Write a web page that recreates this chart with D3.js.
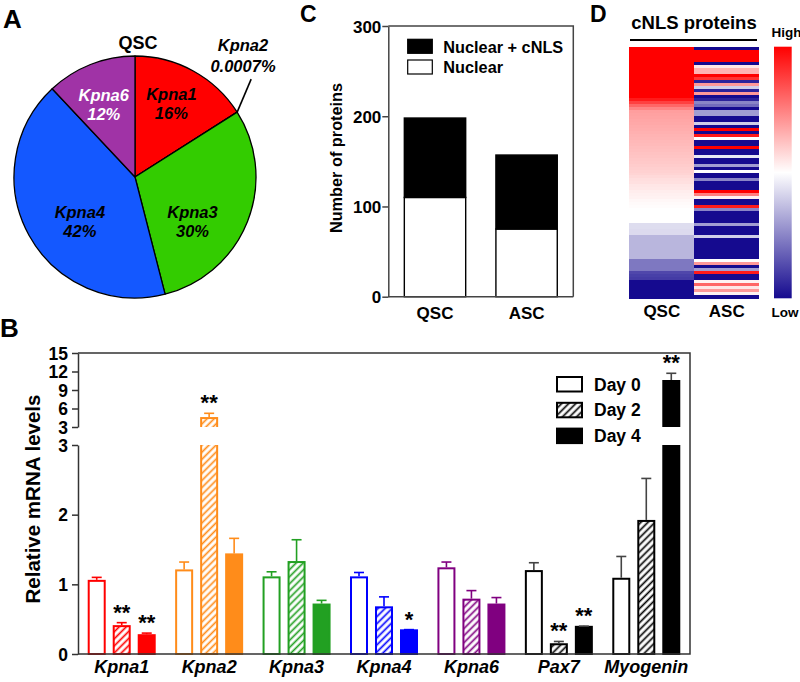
<!DOCTYPE html>
<html><head><meta charset="utf-8">
<script src="https://cdn.jsdelivr.net/npm/d3@7"></script>
<style>
body{margin:0;background:#fff}
svg{display:block}
text{font-family:"Liberation Sans",Arial,Helvetica,sans-serif;font-weight:bold;fill:#000}
</style>
</head><body>
<svg id="fig" width="800" height="682"></svg>
<script>
// ---------- Panel A data ----------
const pieGenes = ["Kpna1","Kpna2","Kpna3","Kpna4","Kpna6"];
const pieShares = [16, 0.0007, 30, 42, 12];
const pieLabels = ["16%","0.0007%","30%","42%","12%"];
const pieColors = ["#ff0000","#ff0000","#33cc00","#1458ff","#a033a6"];

// ---------- Panel C data ----------
const cCategories = ["QSC","ASC"];
const cNuclear = [110, 75];
const cNuclearCNLS = [88, 82];
const cTicks = [0,100,200,300];
const cLegend = ["Nuclear + cNLS","Nuclear"];

// ---------- Panel D data ----------
const heatColumns = ["QSC","ASC"];
const qscHeat = [1,1,1,1,1,1,1,1,1,1,1,1,1,1,1,1,1,
  0.9,0.75,0.6,0.48,
  0.38,0.37,0.36,0.35,0.34,0.33,0.32,0.31,0.3,0.29,0.28,0.27,0.26,0.25,0.24,0.23,0.22,0.21,0.2,0.19,0.18,0.17,
  0.15,0.13,0.12,0.1,0.09,0.07,0.06,0.05,
  0.03,0.02,0.01,0,0,0,0,0,
  -0.14,-0.14,-0.15,-0.15,
  -0.3,-0.3,-0.3,-0.3,-0.3,-0.3,-0.3,-0.3,
  -0.55,-0.55,-0.55,-0.55,
  -0.75,-0.78,-0.8,
  -1,-1,-1,-1,-1,-1];
const ascHeat = [-1,1,1,1,1,-1,0.1,0.3,0.3,1,
  0.8,-0.9,0.4,-0.2,-0.9,0.4,-1,-0.9,-0.5,-0.6,
  -1,-0.4,-0.4,-1,-1,-0.2,-1,1,-1,0.9,
  0,-1,-1,1,-1,-1,-0.1,-1,-1,-0.4,
  -1,0,-1,-1,-0.5,-1,-1,-1,1,0.5,
  0.05,-1,-1,0.9,-0.5,-1,-1,-1,-1,-0.4,
  -1,-1,-1,-0.2,-1,-1,-1,-1,-1,-1,
  -1,0,0.4,-1,-0.4,0.9,-1,-1,0.05,0.6,
  0.1,0.4,0.05,-1];

// ---------- Panel B data ----------
const bGenes = ["Kpna1","Kpna2","Kpna3","Kpna4","Kpna6","Pax7","Myogenin"];
const bDays = ["Day 0","Day 2","Day 4"];
const bDay0 = [1.05,1.20,1.10,1.10,1.23,1.19,1.08];
const bDay0Err = [0.05,0.12,0.08,0.07,0.09,0.12,0.32];
const bDay2 = [0.40,4.45,1.32,0.67,0.78,0.14,1.91];
const bDay2Err = [0.05,0.77,0.32,0.15,0.13,0.04,0.61];
const bDay4 = [0.27,1.43,0.71,0.34,0.71,0.39,10.46];
const bDay4Err = [0.03,0.23,0.06,0.01,0.10,0.01,1.25];
const bDay0Stars = ["","","","","","",""];
const bDay2Stars = ["**","**","","","","**",""];
const bDay4Stars = ["**","","","*","","**","**"];
const bGeneColors = ["#ff0000","#ff8c1a","#22a022","#0000ff","#800080","#000000","#000000"];
const bLowTicks = [0,1,2,3];
const bHighTicks = [3,6,9,12,15];

const svg = d3.select("#fig");
const defs = svg.append("defs");
const FONT = '"Liberation Sans",Arial,Helvetica,sans-serif';

// panel letters
[["A",3,28,26],["B",0,337,26],["C",300,21.5,23],["D",590,21.5,23]].forEach(([t,x,y,s])=>{
  svg.append("text").attr("x",x).attr("y",y).attr("font-size",s).text(t);
});

// =============== Panel A: pie ===============
(function(){
  const cx=135, cy=177, R=121;
  const g = svg.append("g").attr("transform",`translate(${cx},${cy})`);
  const pie = d3.pie().sort(null).value(d=>d.v);
  const data = pie(pieGenes.map((k,i)=>({k, v:pieShares[i], c:pieColors[i], lab:pieLabels[i]})));
  const arc = d3.arc().innerRadius(0).outerRadius(R);
  g.selectAll("path").data(data).enter().append("path")
    .attr("d",arc).attr("fill",d=>d.data.c)
    .attr("stroke","#000").attr("stroke-width",1.3).attr("stroke-linejoin","round");
  const labelLayout = {Kpna1:[26,83], Kpna3:[127,72], Kpna4:[232,70], Kpna6:[337,80]};
  data.forEach(d=>{
    const L = labelLayout[d.data.k];
    if(!L) return;
    const a = L[0]*Math.PI/180;
    const x = Math.sin(a)*L[1], y = -Math.cos(a)*L[1];
    const t = g.append("text").attr("text-anchor","middle").attr("font-size",16.5)
      .attr("font-style","italic")
      .style("fill", d.data.k==="Kpna6" ? "#fff" : "#000");
    t.append("tspan").attr("x",x).attr("y",y-2).text(d.data.k);
    t.append("tspan").attr("x",x).attr("y",y+17).text(d.data.lab);
  });
  const k2 = data[1];
  const a2 = k2.startAngle;
  const px = Math.sin(a2)*R, py = -Math.cos(a2)*R;
  g.append("line").attr("x1",px).attr("y1",py).attr("x2",px+14).attr("y2",py-33)
    .attr("stroke","#000").attr("stroke-width",1.6);
  const t2 = g.append("text").attr("text-anchor","middle").attr("font-size",16.5).attr("font-style","italic");
  t2.append("tspan").attr("x",108).attr("y",-126).text(k2.data.k);
  t2.append("tspan").attr("x",108).attr("y",-105).text(k2.data.lab);
  svg.append("text").attr("x",cx+3).attr("y",49).attr("text-anchor","middle").attr("font-size",18).text("QSC");
})();

// =============== Panel C: stacked bars ===============
(function(){
  const left=388.3, right=573.3, top=26, bottom=296.7;
  const x = d3.scaleBand().domain(cCategories).range([left,right]).paddingInner(0.33).paddingOuter(0.175);
  const y = d3.scaleLinear().domain([0,300]).range([bottom,top]);
  const rows = cCategories.map((c,i)=>({cat:c, nuclear:cNuclear[i], cnls:cNuclearCNLS[i]}));
  const stack = d3.stack().keys(["nuclear","cnls"])(rows);
  const fills = {nuclear:"#fff", cnls:"#000"};
  stack.forEach(layer=>{
    svg.append("g").selectAll("rect").data(layer).enter().append("rect")
      .attr("x",d=>x(d.data.cat)).attr("width",x.bandwidth())
      .attr("y",d=>y(d[1])).attr("height",d=>y(d[0])-y(d[1]))
      .attr("fill",fills[layer.key]).attr("stroke","#000").attr("stroke-width",1.4);
  });
  svg.append("path").attr("d",`M${left},${top}H${right}V${bottom}`).attr("fill","none")
    .attr("stroke","#444").attr("stroke-width",1.5);
  const ax = svg.append("g").attr("transform",`translate(${left},0)`)
    .call(d3.axisLeft(y).tickValues(cTicks).tickSize(6).tickPadding(1).tickSizeOuter(0).tickFormat(d3.format("d")));
  ax.selectAll("path,line").attr("stroke","#444").attr("stroke-width",1.5);
  ax.selectAll("text").attr("font-size",17).attr("font-family",FONT).attr("font-weight","bold").attr("fill","#000").attr("dy","0.36em");
  svg.append("line").attr("x1",left).attr("x2",right).attr("y1",bottom).attr("y2",bottom).attr("stroke","#444").attr("stroke-width",1.5);
  cCategories.forEach(c=>{
    svg.append("text").attr("x",x(c)+x.bandwidth()/2).attr("y",319).attr("text-anchor","middle").attr("font-size",17).text(c);
  });
  svg.append("text").attr("transform",`translate(342,158) rotate(-90)`).attr("text-anchor","middle")
    .attr("font-size",16.3).text("Number of proteins");
  const lg = [["#000",39.3,53.3],["#fff",60,73.3]];
  cLegend.forEach((t,i)=>{
    svg.append("rect").attr("x",407.7).attr("y",lg[i][1]).attr("width",24.6).attr("height",14)
      .attr("fill",lg[i][0]).attr("stroke","#000").attr("stroke-width",1.2);
    svg.append("text").attr("x",443.3).attr("y",lg[i][2]).attr("font-size",16.3).text(t);
  });
})();

// =============== Panel D: heatmap ===============
(function(){
  const top=46.7, bottom=298.3;
  const x = d3.scaleBand().domain(heatColumns).range([629.3,759.3]);
  const rowsIdx = d3.range(qscHeat.length);
  const y = d3.scaleBand().domain(rowsIdx).range([top,bottom]);
  const color = d3.scaleLinear().domain([-1,0,1]).range(["#150a8f","#ffffff","#ff0000"]);
  const cols = {QSC:qscHeat, ASC:ascHeat};
  heatColumns.forEach(c=>{
    svg.append("g").selectAll("rect").data(cols[c]).enter().append("rect")
      .attr("x",x(c)).attr("width",x.bandwidth())
      .attr("y",(d,i)=>y(i)).attr("height",y.bandwidth()+0.6)
      .attr("fill",d=>color(d)).attr("shape-rendering","crispEdges");
    svg.append("text").attr("x",x(c)+x.bandwidth()/2).attr("y",317).attr("text-anchor","middle").attr("font-size",17).text(c);
  });
  svg.append("text").attr("x",694).attr("y",28.5).attr("text-anchor","middle").attr("font-size",18.5).text("cNLS proteins");
  svg.append("line").attr("x1",630).attr("x2",757).attr("y1",40).attr("y2",40).attr("stroke","#000").attr("stroke-width",2);
  const grad = defs.append("linearGradient").attr("id","cbar").attr("x1",0).attr("x2",0).attr("y1",0).attr("y2",1);
  [[0,color(1)],[0.5,color(0)],[1,color(-1)]].forEach(([o,c])=>grad.append("stop").attr("offset",o).attr("stop-color",c));
  svg.append("rect").attr("x",774).attr("y",top).attr("width",17.7).attr("height",bottom-top).attr("fill","url(#cbar)");
  svg.append("text").attr("x",771.5).attr("y",37).attr("font-size",13.5).text("High");
  svg.append("text").attr("x",771.5).attr("y",317).attr("font-size",13.5).text("Low");
})();

// =============== Panel B: broken-axis grouped bars ===============
(function(){
  const left=78, right=690, base=654, lowTop=445, highBot=427, highTop=353;
  const x0 = d3.scaleBand().domain(bGenes).range([left,right]);
  const bw = x0.bandwidth();
  const x1 = d3.scaleBand().domain(bDays).range([bw/2-34, bw/2+34]).paddingInner(0.28);
  const yLow = d3.scaleLinear().domain([0,3]).range([base,lowTop]);
  const yHigh = d3.scaleLinear().domain([3,15]).range([highBot,highTop]);

  defs.append("clipPath").attr("id","clipLow").append("rect").attr("x",0).attr("y",lowTop).attr("width",800).attr("height",base-lowTop+3);
  defs.append("clipPath").attr("id","clipHigh").append("rect").attr("x",0).attr("y",highTop-40).attr("width",800).attr("height",highBot-highTop+40);

  function hatch(id,col){
    const p = defs.append("pattern").attr("id",id).attr("patternUnits","userSpaceOnUse")
      .attr("width",5).attr("height",5).attr("patternTransform","rotate(45)");
    p.append("rect").attr("width",5).attr("height",5).attr("fill","#fff");
    p.append("line").attr("x1",2.5).attr("x2",2.5).attr("y1",-1).attr("y2",6).attr("stroke",col).attr("stroke-width",1.7);
  }
  bGeneColors.forEach((c,i)=>hatch("hatch"+i,c));

  const vals = [bDay0,bDay2,bDay4], errs=[bDay0Err,bDay2Err,bDay4Err], stars=[bDay0Stars,bDay2Stars,bDay4Stars];
  const bars=[];
  bGenes.forEach((g,i)=>bDays.forEach((d,j)=>bars.push({g,i,d,j,v:vals[j][i],e:errs[j][i],s:stars[j][i],c:bGeneColors[i]})));
  const fillOf = b => b.j===0 ? "#fff" : (b.j===1 ? `url(#hatch${b.i})` : b.c);
  const errCol = b => b.c==="#000000" ? "#444" : b.c;

  const gLow = svg.append("g").attr("clip-path","url(#clipLow)");
  const gHigh = svg.append("g").attr("clip-path","url(#clipHigh)");
  bars.forEach(b=>{
    const bx = x0(b.g)+x1(b.d), w = x1.bandwidth();
    const yt = b.v>3 ? lowTop-10 : yLow(b.v);
    gLow.append("rect").attr("x",bx+1).attr("width",w-2).attr("y",yt).attr("height",base-yt)
      .attr("fill",fillOf(b)).attr("stroke",b.c).attr("stroke-width",2);
    let ey, cxm = bx+w/2;
    if(b.v>3){
      const yh = yHigh(b.v);
      gHigh.append("rect").attr("x",bx+1).attr("width",w-2).attr("y",yh).attr("height",highBot+10-yh)
        .attr("fill",fillOf(b)).attr("stroke",b.c).attr("stroke-width",2);
      ey = yHigh(b.v+b.e);
      svg.append("line").attr("x1",cxm).attr("x2",cxm).attr("y1",yh-1).attr("y2",ey).attr("stroke",errCol(b)).attr("stroke-width",1.6);
    } else {
      ey = yLow(b.v+b.e);
      svg.append("line").attr("x1",cxm).attr("x2",cxm).attr("y1",yLow(b.v)-1).attr("y2",ey).attr("stroke",errCol(b)).attr("stroke-width",1.6);
    }
    svg.append("line").attr("x1",cxm-5).attr("x2",cxm+5).attr("y1",ey).attr("y2",ey).attr("stroke",errCol(b)).attr("stroke-width",1.6);
    if(b.s){
      svg.append("text").attr("x",cxm).attr("y",ey-3).attr("text-anchor","middle").attr("font-size",22).text(b.s);
    }
  });

  const aLow = svg.append("g").attr("transform",`translate(${left},0)`)
    .call(d3.axisLeft(yLow).tickValues(bLowTicks).tickSize(6).tickPadding(4).tickSizeOuter(0).tickFormat(d3.format("d")));
  const aHigh = svg.append("g").attr("transform",`translate(${left},0)`)
    .call(d3.axisLeft(yHigh).tickValues(bHighTicks).tickSize(6).tickPadding(4).tickSizeOuter(0).tickFormat(d3.format("d")));
  [aLow,aHigh].forEach(a=>{
    a.selectAll("path,line").attr("stroke","#333").attr("stroke-width",1.5);
    a.selectAll("text").attr("font-size",17.5).attr("font-family",FONT).attr("font-weight","bold").attr("fill","#000").attr("dy","0.36em");
  });
  svg.append("path").attr("d",`M${left},${highTop}H${right}V${base}H${left}`).attr("fill","none")
    .attr("stroke","#333").attr("stroke-width",1.5);
  bGenes.forEach(g=>{
    svg.append("text").attr("x",x0(g)+bw/2).attr("y",673).attr("text-anchor","middle")
      .attr("font-size",18).attr("font-style","italic").text(g);
  });
  svg.append("text").attr("transform","translate(40,499) rotate(-90)").attr("text-anchor","middle")
    .attr("font-size",20.5).text("Relative mRNA levels");
  const legFill = ["#fff","url(#hatch5)","#000"];
  bDays.forEach((d,j)=>{
    const yy = 377 + j*25.8;
    svg.append("rect").attr("x",557).attr("y",yy).attr("width",25).attr("height",14.5)
      .attr("fill",legFill[j]).attr("stroke","#000").attr("stroke-width",2);
    svg.append("text").attr("x",594).attr("y",yy+13.5).attr("font-size",17.5).text(d);
  });
})();
</script>
</body></html>
